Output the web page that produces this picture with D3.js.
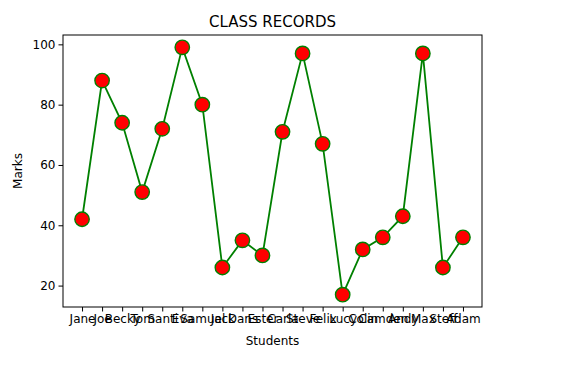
<!DOCTYPE html>
<html>
<head>
<meta charset="utf-8">
<script src="https://cdn.jsdelivr.net/npm/d3@7"></script>
<style>
  body { margin: 0; background: #fff; }
  svg { font-family: "DejaVu Sans", sans-serif; }
</style>
</head>
<body>
<svg id="chart" width="577" height="369"></svg>
<script>
// data
const students = ["Jane", "Joe", "Becky", "Tom", "Santi", "Eva", "Samuel", "Jack", "Dans", "Ester",
  "Carla", "Steve", "Felix", "Lucy", "Colin", "Camden", "Andy", "Max", "Steff", "Adam"]
const marks = [42, 88, 74, 51, 72, 99, 80, 26, 35, 30, 71, 97, 67, 17, 32, 36, 43, 97, 26, 36]
const yTicks = [20, 40, 60, 80, 100]

const plot = { left: 63, right: 482, top: 35, bottom: 307 }

const svg = d3.select('#chart')

const x = d3.scaleLinear().domain([-0.95, students.length - 1 + 0.95]).range([plot.left, plot.right])
const lo = d3.min(marks), hi = d3.max(marks), pad = (hi - lo) * 0.05
const y = d3.scaleLinear().domain([lo - pad, hi + pad]).range([plot.bottom, plot.top])

// x axis
const xAxis = d3.axisBottom(x)
  .tickValues(d3.range(students.length))
  .tickFormat(i => students[i])
  .tickSize(4.5).tickPadding(3)
const gx = svg.append('g').attr('transform', `translate(0, ${plot.bottom})`).call(xAxis)
gx.select('.domain').remove()
gx.selectAll('text').attr('font-size', 12).attr('fill', '#000').attr('font-family', '"DejaVu Sans", sans-serif')

// y axis
const yAxis = d3.axisLeft(y).tickValues(yTicks).tickSize(4.5).tickPadding(3)
const gy = svg.append('g').attr('transform', `translate(${plot.left}, 0)`).call(yAxis)
gy.select('.domain').remove()
gy.selectAll('text').attr('font-size', 12).attr('fill', '#000').attr('font-family', '"DejaVu Sans", sans-serif')

// frame
svg.append('rect')
  .attr('x', plot.left).attr('y', plot.top)
  .attr('width', plot.right - plot.left).attr('height', plot.bottom - plot.top)
  .attr('fill', 'none').attr('stroke', '#000').attr('stroke-width', 1)

// line + markers
const line = d3.line().x((d, i) => x(i)).y(d => y(d))
svg.append('path').datum(marks)
  .attr('d', line).attr('fill', 'none').attr('stroke', 'green').attr('stroke-width', 1.8)

svg.append('g').selectAll('circle').data(marks).join('circle')
  .attr('cx', (d, i) => x(i)).attr('cy', d => y(d)).attr('r', 7.2)
  .attr('fill', 'red').attr('stroke', 'green').attr('stroke-width', 1.4)

// labels
svg.append('text').attr('x', (plot.left + plot.right) / 2).attr('y', plot.top - 8)
  .attr('text-anchor', 'middle').attr('font-size', 15).text('CLASS RECORDS')
svg.append('text').attr('x', (plot.left + plot.right) / 2).attr('y', 345)
  .attr('text-anchor', 'middle').attr('font-size', 12).text('Students')
svg.append('text').attr('transform', `translate(22, ${(plot.top + plot.bottom) / 2}) rotate(-90)`)
  .attr('text-anchor', 'middle').attr('font-size', 12).text('Marks')
</script>
</body>
</html>
